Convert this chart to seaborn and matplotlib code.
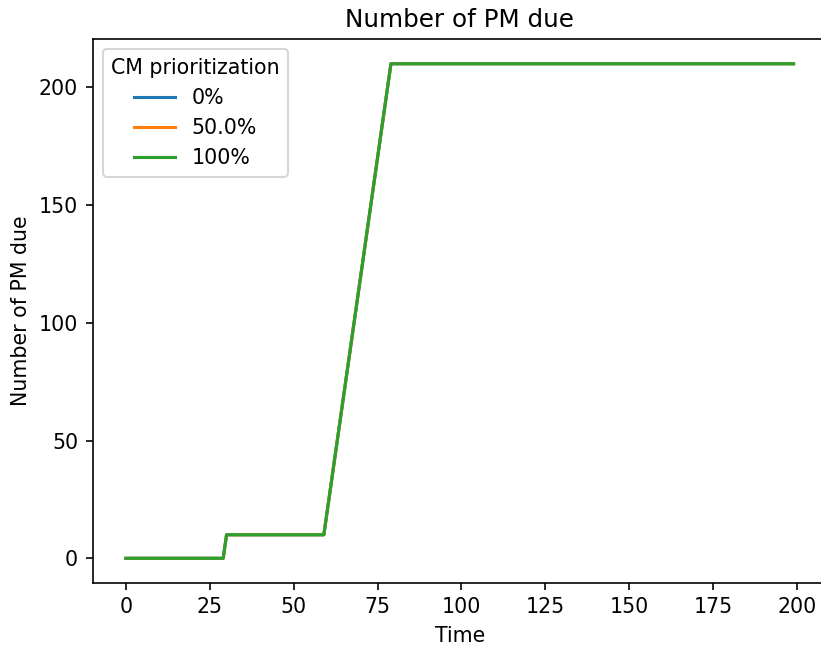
import pandas as pd
import matplotlib
matplotlib.use("Agg")
import matplotlib.pyplot as plt
import seaborn as sns

# Data
time = list(range(200))
ramp = [20, 30, 40, 50, 60, 70, 80, 90, 100, 110,
        120, 130, 140, 150, 160, 170, 180, 190, 200, 210]
pm_due = [0] * 30 + [10] * 30 + ramp + [210] * 120
scenarios = ["0%", "50.0%", "100%"]

rows = []
for s in scenarios:
    for t, v in zip(time, pm_due):
        rows.append({"Time": t, "Number of PM due": v, "CM prioritization": s})
df = pd.DataFrame(rows)

dpi = 148
fig, ax = plt.subplots(figsize=(821 / dpi, 650 / dpi), dpi=dpi)
sns.lineplot(data=df, x="Time", y="Number of PM due", hue="CM prioritization",
             hue_order=scenarios, palette="tab10", ax=ax)
ax.set_title("Number of PM due")
ax.legend(title="CM prioritization", loc="upper left")
# the original picture cuts off the right edge of the axes
ax.set_position([0.1127, 0.103, 0.8945, 0.837])
fig.savefig("out.png", dpi=dpi)
